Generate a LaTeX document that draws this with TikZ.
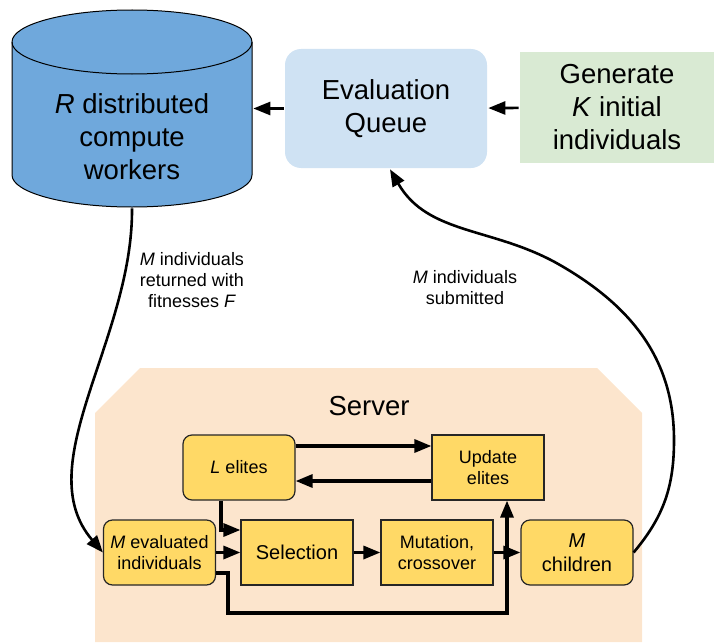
\documentclass[tikz,border=0pt]{standalone}
\usepackage{fontspec}
\setmainfont{Liberation Sans}
\usetikzlibrary{arrows.meta}
\definecolor{workerblue}{HTML}{6FA8DC}
\definecolor{queueblue}{HTML}{CFE2F3}
\definecolor{gengreen}{HTML}{D9EAD3}
\definecolor{serverpeach}{HTML}{FCE5CD}
\definecolor{boxyellow}{HTML}{FFD966}

\begin{document}
\begin{tikzpicture}[x=1pt,y=-1pt,-{Triangle[length=17pt,width=13pt]},line width=2.6pt]
   \useasboundingbox (0,0) rectangle (714,642);
   \tikzstyle{big}=[font=\fontsize{27.5}{33}\selectfont, align=center]
   \tikzstyle{main}=[draw=black!85, line width=1.2pt, fill=boxyellow, minimum width=112pt, minimum height=65pt, align=center, font=\fontsize{18}{20.5}\selectfont, inner sep=2pt]
   \tikzstyle{rounded}=[main, rounded corners=9pt]
   \tikzstyle{small}=[font=\fontsize{18}{21}\selectfont, align=center]
   % server area
   \fill[-,serverpeach] (95,642) -- (95,413) -- (140,368) -- (597,368) -- (642,413) -- (642,642) -- cycle;
   \node[big] (server) at (369,406) {Server};
   % top row, the workers drawn as a cylinder
   \filldraw[-,fill=workerblue,draw=black,line width=1pt] (12,42) -- (12,175) arc(180:0:120 and 32) -- (252,42) arc(0:-180:120 and 32) -- cycle;
   \draw[-,line width=1pt] (12,42) arc(180:0:120 and 32);
   \node[minimum width=240pt, minimum height=197pt, inner sep=0pt] (workers) at (132,108.5) {};
   \node[big] (workerstext) at (132,137) {\textit{R} distributed\\compute\\workers};
   \node[big, fill=queueblue, rounded corners=16pt, minimum width=202pt, minimum height=119pt] (queue) at (386,108.5) {Evaluation\\Queue};
   \node[big, fill=gengreen, minimum width=194pt, minimum height=111pt] (generate) at (617,107.5) {Generate\\\textit{K} initial\\individuals};
   \path (generate) edge (queue);
   \path (queue) edge (workers);
   % server boxes
   \node[rounded] (lelites) at (239,467.5) {\textit{L} elites};
   \node[main] (update) at (488,467.5) {Update\\elites};
   \node[rounded] (evaluated) at (159.5,552.5) {\textit{M} evaluated\\individuals};
   \node[main, font=\fontsize{20}{24}\selectfont] (selection) at (297,552.5) {Selection};
   \node[main] (mutation) at (437,552.5) {Mutation,\\crossover};
   \node[rounded, font=\fontsize{20}{24}\selectfont] (children) at (577,552.5) {\textit{M}\\children};
   \begin{scope}[line width=3.2pt]
      \path ([yshift=21.5pt]lelites.east) edge ([yshift=21.5pt]update.west);
      \path ([yshift=-13.5pt]update.west) edge ([yshift=-13.5pt]lelites.east);
      \draw ([xshift=-18pt]lelites.south) |- ([yshift=22.5pt]selection.west);
      \path (evaluated) edge (selection);
      \path (selection) edge (mutation);
      \path (mutation) edge (children);
      \draw ([yshift=-20.5pt]evaluated.east) -| (228,613) -| ([xshift=19pt]update.south);
   \end{scope}
   % loop between server and workers
   \draw (workers.south) .. controls (133,340) and (28,465) .. (evaluated.west);
   \node[small] (returned) at (192,280) {\textit{M} individuals\\returned with\\fitnesses \textit{F}};
   \draw (children.east) to[out=50,in=-90] (674,440) to[out=90,in=-30] (560,265) to[out=150,in=-60] ([xshift=4pt]queue.south);
   \node[small] (submitted) at (465,288) {\textit{M} individuals\\submitted};
\end{tikzpicture}
\end{document}
